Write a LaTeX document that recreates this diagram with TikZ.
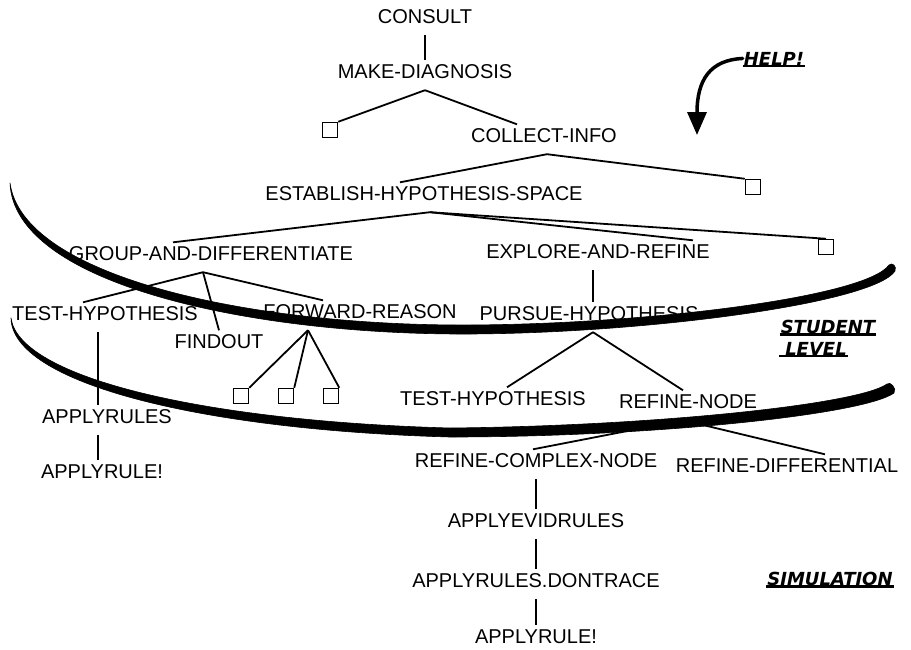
\documentclass[tikz,border=0pt]{standalone}
\usepackage{fontspec}
\setmainfont{Liberation Sans}
\newfontfamily\tagfont{DejaVu Sans}
\usetikzlibrary{arrows.meta}

\begin{document}
\begin{tikzpicture}[
    x=1pt, y=-1pt,
    task/.style={font=\fontsize{20}{24}\selectfont, anchor=base, inner sep=3pt, text height=14.5pt, text depth=9pt},
    leaf/.style={draw, rectangle, line width=1.5pt, minimum size=15pt, inner sep=0pt},
    link/.style={line width=1.8pt},
    stem/.style={line width=1.2pt},
    tag/.style={font=\fontsize{18}{22}\tagfont\bfseries\itshape, anchor=base, inner sep=1pt},
    uline/.style={line width=2.2pt},
    brush/.style={fill=black, draw=black, line width=0.6pt, line join=round}
]
    \useasboundingbox (0,0) rectangle (911,649);

    % Goal tree
    \node[task] (consult)    at (425,23)  {CONSULT};
    \node[task] (makediag)   at (425,78)  {MAKE-DIAGNOSIS};
    \node[task] (collect)    at (544,142) {COLLECT-INFO};
    \node[task] (establish)  at (424,200) {ESTABLISH-HYPOTHESIS-SPACE};
    \node[task] (groupdiff)  at (211,260) {GROUP-AND-DIFFERENTIATE};
    \node[task] (explore)    at (598,258) {EXPLORE-AND-REFINE};
    \node[task] (testhypA)   at (105,320) {TEST-HYPOTHESIS};
    \node[task] (findout)    at (219,348) {FINDOUT};
    \node[task] (forward)    at (360,318) {FORWARD-REASON};
    \node[task] (pursue)     at (589,320) {PURSUE-HYPOTHESIS};
    \node[task] (testhypB)   at (493,405) {TEST-HYPOTHESIS};
    \node[task] (refinenode) at (688,408) {REFINE-NODE};
    \node[task] (applyrules) at (107,423) {APPLYRULES};
    \node[task] (applyruleA) at (102,478) {APPLYRULE!};
    \node[task] (refcomplex) at (536,467) {REFINE-COMPLEX-NODE};
    \node[task] (refdiff)    at (787,472) {REFINE-DIFFERENTIAL};
    \node[task] (applyevid)  at (536,527) {APPLYEVIDRULES};
    \node[task] (dontrace)   at (536,587) {APPLYRULES.DONTRACE};
    \node[task] (applyruleB) at (536,643) {APPLYRULE!};

    % Unexpanded subgoals
    \node[leaf] (bxA) at (330,130) {};
    \node[leaf] (bxB) at (753,187) {};
    \node[leaf] (bxC) at (826,247) {};
    \node[leaf] (bxD) at (241,396) {};
    \node[leaf] (bxE) at (286,396) {};
    \node[leaf] (bxF) at (331,396) {};

    % Links
    \draw[stem] (consult.south) -- (makediag.north);
    \draw[link] (makediag.south) -- (bxA.north east);
    \draw[link] (makediag.south) -- ([xshift=-27pt]collect.north);
    \draw[link] ([xshift=3pt]collect.south) -- ([xshift=-24pt]establish.north);
    \draw[link] ([xshift=3pt]collect.south) -- (bxB.north west);
    \draw[link] ([xshift=6pt]establish.south) -- ([xshift=-38pt]groupdiff.north);
    \draw[link] ([xshift=6pt]establish.south) -- ([xshift=95pt]explore.north);
    \draw[link] ([xshift=6pt]establish.south) -- (bxC.north);
    \draw[link] ([xshift=-8pt]groupdiff.south) -- ([xshift=-22pt]testhypA.north);
    \draw[link] ([xshift=-8pt]groupdiff.south) -- (findout.north);
    \draw[link] ([xshift=-8pt]groupdiff.south) -- ([xshift=-37pt]forward.north);
    \draw[stem] ([xshift=-5pt]explore.south) -- ([xshift=4pt]pursue.north);
    \draw[link] ([xshift=-52pt]forward.south) -- (bxD.north east);
    \draw[link] ([xshift=-52pt]forward.south) -- (bxE.north east);
    \draw[link] ([xshift=-52pt]forward.south) -- (bxF.north east);
    \draw[link] ([xshift=4pt]pursue.south) -- ([xshift=14pt]testhypB.north);
    \draw[link] ([xshift=4pt]pursue.south) -- ([xshift=-5pt]refinenode.north);
    \draw[link] ([xshift=-5pt]refinenode.south) -- ([xshift=-3pt]refcomplex.north);
    \draw[link] ([xshift=-5pt]refinenode.south) -- ([xshift=38pt]refdiff.north);
    \draw[stem] ([xshift=-7pt]testhypA.south) -- ([xshift=-9pt]applyrules.north);
    \draw[stem] ([xshift=-9pt]applyrules.south) -- ([xshift=-4pt]applyruleA.north);
    \draw[stem] (refcomplex.south) -- (applyevid.north);
    \draw[stem] (applyevid.south) -- (dontrace.north);
    \draw[stem] (dontrace.south) -- (applyruleB.north);

    % Level boundaries
    \fill[brush] (10,183) .. controls (23,277) and (250,326) .. (470,325)
        .. controls (650,324) and (866,297) .. (889,265)
        .. controls (892,262) and (897,266) .. (895,271)
        .. controls (874,303) and (650,333) .. (470,334)
        .. controls (250,335) and (14,284) .. (10,183) -- cycle;
    \fill[brush] (11,318) .. controls (19,377) and (200,421) .. (450,428)
        .. controls (650,426) and (857,405) .. (887,384)
        .. controls (890,381) and (897,388) .. (894,393)
        .. controls (863,415) and (650,437) .. (450,437)
        .. controls (200,430) and (12,383) .. (11,318) -- cycle;

    % Labels
    \node[tag] (help)    at (774,65)  {HELP!};
    \node[tag] (student) at (828,333) {STUDENT};
    \node[tag] (level)   at (816,355) {LEVEL};
    \node[tag] (simul)   at (830,585) {SIMULATION};
    \draw[uline] (help.south west) -- (help.south east);
    \draw[uline] (student.south west) -- (student.south east);
    \draw[uline] ([xshift=-5pt]level.south west) -- (level.south east);
    \draw[uline] (simul.south west) -- (simul.south east);

    \draw[line width=3.5pt, line cap=round, -{Triangle[width=19pt,length=23pt]}]
        (help.west) .. controls (710,60) and (697,80) .. (697,135);
\end{tikzpicture}
\end{document}
